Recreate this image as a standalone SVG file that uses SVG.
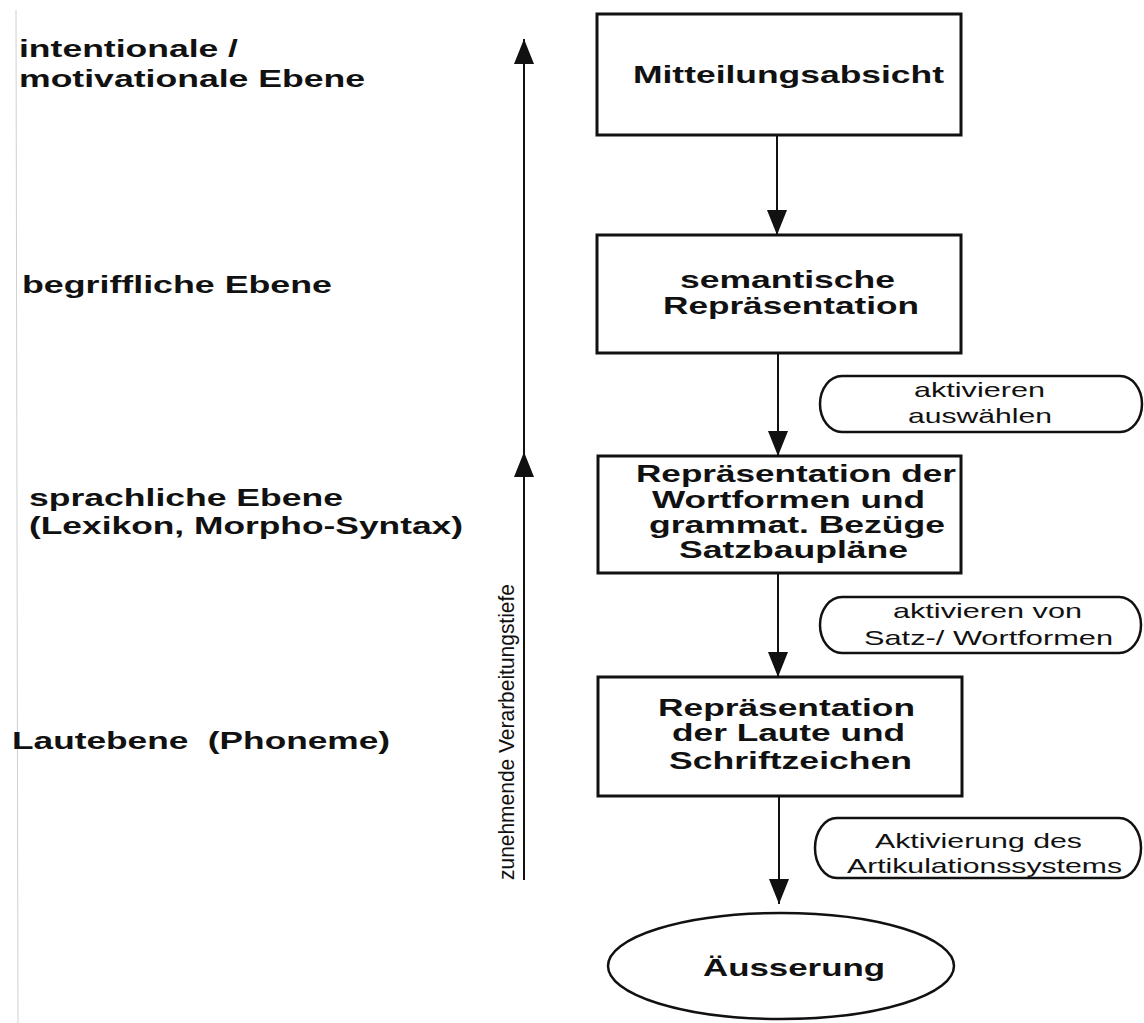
<svg xmlns="http://www.w3.org/2000/svg" width="1144" height="1023" viewBox="0 0 1144 1023">
<style>
.bg{fill:#ffffff}
.box{fill:#ffffff;stroke:#111;stroke-width:3}
.pill{fill:#ffffff;stroke:#111;stroke-width:2.5}
.conn{stroke:#111;stroke-width:2;fill:none}
.lbl{font-family:"Liberation Sans",Arial,Helvetica,sans-serif;font-weight:bold;font-size:24px;fill:#111}
.bt{font-family:"Liberation Sans",Arial,Helvetica,sans-serif;font-weight:bold;font-size:24px;fill:#111}
.pt{font-family:"Liberation Sans",Arial,Helvetica,sans-serif;font-size:21px;fill:#111}
.rt{font-family:"Liberation Sans",Arial,Helvetica,sans-serif;font-size:22px;fill:#111}
</style>
<defs>
<marker id="ah" viewBox="0 0 25 20" markerWidth="25" markerHeight="20" refX="25" refY="10" orient="auto" markerUnits="userSpaceOnUse">
<path d="M0,0 L25,10 L0,20 Z" fill="#111"/>
</marker>
</defs>
<rect class="bg" x="0" y="0" width="1144" height="1023"/>
<line x1="16" y1="10" x2="18" y2="1023" stroke="#d0d0d0" stroke-width="1"/>

<g id="levels">
<text class="lbl" x="19" y="57" textLength="219" lengthAdjust="spacingAndGlyphs">intentionale /</text>
<text class="lbl" x="19" y="87" textLength="346" lengthAdjust="spacingAndGlyphs">motivationale Ebene</text>
<text class="lbl" x="22" y="293" textLength="310" lengthAdjust="spacingAndGlyphs">begriffliche Ebene</text>
<text class="lbl" x="29" y="506" textLength="314" lengthAdjust="spacingAndGlyphs">sprachliche Ebene</text>
<text class="lbl" x="29" y="534" textLength="434" lengthAdjust="spacingAndGlyphs">(Lexikon, Morpho-Syntax)</text>
<text class="lbl" x="12" y="749" textLength="378" lengthAdjust="spacingAndGlyphs" xml:space="preserve">Lautebene  (Phoneme)</text>
</g>

<g id="connectors">
<path class="conn" d="M524,880 L524,452 L524,39" marker-mid="url(#ah)" marker-end="url(#ah)"/>
<line class="conn" x1="777" y1="135" x2="777" y2="235" marker-end="url(#ah)"/>
<line class="conn" x1="778" y1="353" x2="778" y2="456" marker-end="url(#ah)"/>
<line class="conn" x1="778" y1="573" x2="778" y2="677" marker-end="url(#ah)"/>
<line class="conn" x1="779" y1="796" x2="779" y2="904" marker-end="url(#ah)"/>
</g>

<g id="depth-label">
<text class="rt" transform="translate(514,732) rotate(-90)" text-anchor="middle" textLength="296" lengthAdjust="spacingAndGlyphs">zunehmende Verarbeitungstiefe</text>
</g>

<g id="n-mitteilungsabsicht">
<rect class="box" x="597" y="14" width="364" height="121"/>
<text class="bt" x="633" y="83" font-size="26" textLength="311" lengthAdjust="spacingAndGlyphs">Mitteilungsabsicht</text>
</g>

<g id="n-semantisch">
<rect class="box" x="597" y="235" width="364" height="118"/>
<text class="bt" x="680" y="288" textLength="215" lengthAdjust="spacingAndGlyphs">semantische</text>
<text class="bt" x="663" y="314" textLength="256" lengthAdjust="spacingAndGlyphs">Repräsentation</text>
</g>

<g id="n-wortformen">
<rect class="box" x="598" y="456" width="363" height="117"/>
<text class="bt" x="636" y="482" textLength="320" lengthAdjust="spacingAndGlyphs">Repräsentation der</text>
<text class="bt" x="652" y="508" textLength="273" lengthAdjust="spacingAndGlyphs">Wortformen und</text>
<text class="bt" x="649" y="533" textLength="296" lengthAdjust="spacingAndGlyphs">grammat. Bezüge</text>
<text class="bt" x="679" y="558" textLength="229" lengthAdjust="spacingAndGlyphs">Satzbaupläne</text>
</g>

<g id="n-laute">
<rect class="box" x="598" y="677" width="364" height="119"/>
<text class="bt" x="658" y="716" textLength="257" lengthAdjust="spacingAndGlyphs">Repräsentation</text>
<text class="bt" x="672" y="741" textLength="233" lengthAdjust="spacingAndGlyphs">der Laute und</text>
<text class="bt" x="669" y="769" textLength="243" lengthAdjust="spacingAndGlyphs">Schriftzeichen</text>
</g>

<g id="n-aeusserung">
<ellipse class="pill" cx="781" cy="966" rx="173" ry="53"/>
<text class="bt" x="703" y="976" font-size="25" textLength="182" lengthAdjust="spacingAndGlyphs">Äusserung</text>
</g>

<g id="n-aktivieren-auswaehlen">
<rect class="pill" x="820" y="376" width="322" height="56" rx="22" ry="28"/>
<text class="pt" x="914" y="397" textLength="131" lengthAdjust="spacingAndGlyphs">aktivieren</text>
<text class="pt" x="908" y="423" textLength="144" lengthAdjust="spacingAndGlyphs">auswählen</text>
</g>

<g id="n-aktivieren-von">
<rect class="pill" x="820" y="597" width="321" height="56" rx="22" ry="28"/>
<text class="pt" x="893" y="618" textLength="189" lengthAdjust="spacingAndGlyphs">aktivieren von</text>
<text class="pt" x="864" y="645" textLength="249" lengthAdjust="spacingAndGlyphs">Satz-/ Wortformen</text>
</g>

<g id="n-artikulation">
<rect class="pill" x="815" y="818" width="326" height="60" rx="22" ry="30"/>
<text class="pt" x="875" y="848" textLength="207" lengthAdjust="spacingAndGlyphs">Aktivierung des</text>
<text class="pt" x="847" y="873" textLength="275" lengthAdjust="spacingAndGlyphs">Artikulationssystems</text>
</g>
</svg>
